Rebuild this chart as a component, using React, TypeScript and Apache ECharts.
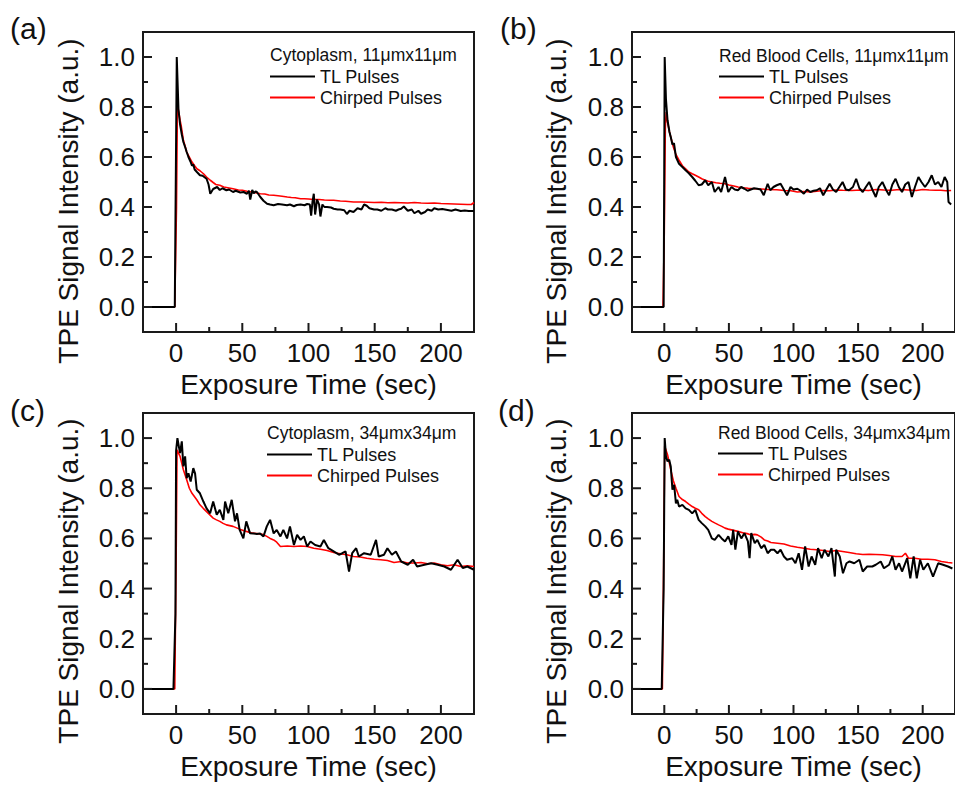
import React, { useEffect, useRef } from 'react';
import * as echarts from 'echarts';

// ---------- data: [time (sec), normalized TPE signal] ----------
const tlA: number[][] = [[-25,0],[-2,0],[-1,0],[0.5,1.0],[1.8,0.79],[3,0.73],[4.3,0.69],[5.5,0.66],[6.8,0.64],[8,0.62],[9.3,0.6],[11,0.58],[12,0.565],[13,0.57],[14,0.55],[15.7,0.54],[18,0.527],[20,0.525],[23,0.513],[24.5,0.49],[25.8,0.453],[28,0.472],[31,0.48],[33,0.468],[35,0.475],[38,0.467],[40,0.47],[43,0.46],[45,0.465],[48.5,0.458],[51,0.46],[53.5,0.453],[55,0.465],[56,0.43],[57.5,0.468],[58.6,0.455],[60,0.462],[61,0.46],[63.6,0.44],[66,0.425],[68.7,0.413],[71,0.41],[73.7,0.407],[77,0.412],[80,0.41],[83.8,0.407],[86,0.41],[89,0.403],[91,0.408],[94,0.41],[97,0.407],[99,0.412],[101,0.41],[102,0.365],[103,0.42],[104,0.453],[105,0.37],[106.5,0.43],[108,0.41],[109,0.362],[110.5,0.41],[112,0.4],[114,0.4],[117,0.398],[119,0.393],[122,0.39],[124,0.39],[127,0.387],[129,0.372],[131,0.385],[134,0.38],[137,0.395],[140,0.39],[142,0.41],[144,0.405],[146,0.395],[149.5,0.39],[152,0.39],[155,0.385],[158,0.395],[160,0.39],[163,0.39],[166,0.385],[168,0.39],[170,0.393],[172,0.402],[175,0.385],[178,0.39],[180,0.375],[183,0.385],[185,0.373],[188,0.38],[190,0.39],[193,0.385],[195,0.395],[198,0.39],[201,0.392],[205,0.388],[208,0.385],[211,0.39],[215,0.384],[218,0.386],[221,0.384],[225,0.384]];
const cpA: number[][] = [[-25,0],[-1,0],[0.3,0.4],[1,0.81],[2,0.78],[3,0.747],[4,0.72],[5.5,0.667],[7,0.64],[8,0.62],[10,0.6],[12,0.58],[14,0.565],[15.7,0.553],[18,0.545],[20.7,0.533],[23,0.52],[25.8,0.507],[28,0.498],[30,0.49],[33,0.487],[36,0.48],[40,0.476],[43,0.473],[47,0.468],[50,0.467],[53.5,0.463],[57,0.46],[60,0.457],[63.6,0.453],[67,0.452],[70,0.448],[73.7,0.447],[77,0.445],[80,0.443],[84,0.44],[87,0.438],[90,0.437],[94,0.433],[97,0.433],[100,0.432],[104,0.43],[108,0.43],[112,0.428],[116,0.427],[119,0.427],[124,0.424],[128,0.423],[134,0.42],[140,0.42],[145,0.419],[149.5,0.418],[155,0.419],[160,0.417],[165,0.418],[170,0.417],[175,0.416],[180,0.418],[185,0.416],[190,0.415],[195,0.416],[200,0.414],[205,0.413],[210,0.412],[215,0.411],[220,0.41],[223,0.41],[225,0.418]];

const tlB: number[][] = [[-25,0],[-2,0],[-0.5,0],[0.3,1.0],[1.3,0.83],[2.5,0.747],[4,0.7],[5,0.68],[6.3,0.65],[7.5,0.655],[9,0.6],[11.4,0.573],[14,0.56],[16.5,0.547],[19,0.535],[21.6,0.52],[24,0.505],[26.6,0.487],[29,0.49],[31.7,0.507],[34,0.487],[36.8,0.5],[39,0.46],[42,0.48],[44,0.46],[47,0.52],[49.5,0.46],[52,0.48],[54.5,0.47],[57,0.467],[59.5,0.48],[62,0.473],[64.5,0.465],[67,0.47],[69.5,0.475],[72,0.473],[74.5,0.47],[77,0.447],[80,0.493],[82,0.467],[84.5,0.48],[87,0.487],[90,0.493],[92.5,0.47],[95,0.447],[97.7,0.48],[100,0.47],[103,0.473],[105.5,0.465],[108,0.453],[110.5,0.47],[113,0.46],[115.5,0.465],[118,0.467],[120.5,0.475],[123,0.447],[125.5,0.47],[128,0.493],[130.5,0.47],[133,0.46],[135.5,0.48],[138,0.5],[140.5,0.47],[143,0.467],[146,0.48],[148.5,0.513],[151,0.475],[153.6,0.46],[156,0.48],[158.6,0.5],[161,0.47],[163.7,0.44],[166,0.48],[168.8,0.5],[171.5,0.47],[174,0.447],[176.5,0.49],[179,0.513],[181.5,0.48],[184,0.46],[186.5,0.49],[189,0.5],[191.6,0.44],[194,0.48],[196.7,0.52],[199,0.5],[201.8,0.48],[204.5,0.5],[207,0.527],[209.5,0.49],[212,0.5],[214.5,0.48],[217,0.52],[219,0.5],[220,0.42],[222,0.41]];
const cpB: number[][] = [[-25,0],[-1,0],[0,0.3],[0.8,0.72],[1.5,0.78],[2.5,0.74],[4,0.7],[5,0.68],[7,0.64],[9,0.61],[11.4,0.587],[14,0.565],[16.5,0.553],[19,0.54],[21.6,0.533],[24,0.527],[26.6,0.52],[29,0.513],[31.7,0.507],[34,0.503],[37,0.5],[40,0.497],[43,0.495],[47,0.493],[50,0.488],[53,0.485],[57,0.48],[61,0.477],[65,0.475],[70,0.473],[75,0.472],[80,0.47],[87,0.469],[93,0.466],[98,0.465],[103,0.46],[108,0.462],[113,0.46],[118,0.463],[123,0.466],[128,0.465],[133,0.468],[138,0.467],[145,0.466],[152,0.468],[158,0.466],[164,0.47],[170,0.468],[176,0.467],[182,0.47],[189,0.468],[195,0.466],[200,0.47],[205,0.468],[210,0.467],[214,0.467],[218,0.465],[222,0.466]];

const tlC: number[][] = [[-25,0],[-2,0],[-0.5,0.3],[0,0.95],[1,1.0],[2.3,0.96],[3,0.94],[4.3,0.987],[5.5,0.887],[6.8,0.927],[8,0.84],[9.3,0.86],[11,0.827],[13,0.88],[14.3,0.86],[15.6,0.794],[18,0.78],[20.6,0.747],[23,0.72],[25.7,0.7],[28,0.747],[30.7,0.694],[33,0.714],[35.7,0.674],[37,0.747],[39.4,0.7],[42,0.754],[44.5,0.668],[46,0.7],[48,0.634],[50.8,0.6],[53,0.668],[55.8,0.621],[58.3,0.62],[61,0.618],[63.4,0.62],[66,0.608],[68.5,0.648],[71,0.674],[73.7,0.62],[76,0.634],[78.8,0.608],[81,0.634],[83.8,0.6],[86,0.648],[89,0.574],[91.4,0.614],[94,0.594],[96.5,0.608],[99,0.568],[101.5,0.588],[105,0.574],[109,0.568],[111.6,0.594],[115,0.561],[119,0.548],[123,0.535],[125.5,0.541],[128,0.548],[130.6,0.468],[133,0.541],[136,0.561],[138,0.528],[142,0.541],[147,0.535],[151,0.594],[153,0.528],[157,0.535],[159.6,0.561],[163,0.535],[166,0.548],[170,0.508],[175,0.495],[179,0.515],[182,0.488],[187.6,0.495],[192.6,0.501],[197.6,0.495],[202.6,0.488],[207.6,0.475],[212.6,0.515],[216.5,0.482],[220,0.488],[225,0.475]];
const cpC: number[][] = [[-25,0],[-1,0],[0,0.5],[0.7,0.953],[3,0.927],[5.5,0.874],[8,0.834],[10,0.8],[12,0.78],[15.6,0.754],[18,0.734],[20.5,0.72],[23,0.707],[25.5,0.694],[28,0.681],[30.5,0.674],[33,0.668],[35.5,0.66],[38,0.654],[43,0.648],[48,0.637],[53,0.628],[58,0.621],[63,0.618],[66,0.615],[68.5,0.608],[71,0.6],[73.7,0.594],[76,0.585],[78.8,0.568],[84,0.57],[89,0.568],[94,0.57],[99,0.568],[104,0.561],[109,0.557],[114,0.552],[119,0.544],[124,0.539],[129,0.535],[134,0.528],[139,0.526],[144,0.521],[149.5,0.517],[154.5,0.515],[159.6,0.512],[164.6,0.504],[170,0.508],[175,0.502],[180,0.502],[185,0.504],[190,0.499],[195,0.502],[200,0.495],[205,0.491],[210,0.495],[215,0.488],[220,0.491],[225,0.488]];

const tlD: number[][] = [[-25,0],[-2,0],[-0.5,0.4],[0.3,1.0],[1.3,0.927],[2.5,0.907],[3.8,0.914],[5,0.887],[6.3,0.794],[7.6,0.814],[9,0.74],[10,0.754],[11.4,0.727],[14,0.734],[16.5,0.72],[19,0.714],[21.6,0.7],[24,0.714],[26.6,0.674],[29,0.661],[31.7,0.648],[34,0.634],[36.8,0.6],[39,0.594],[42,0.614],[44.4,0.6],[47,0.588],[49.5,0.608],[52,0.574],[53.3,0.634],[55,0.555],[57,0.628],[59.6,0.6],[62,0.621],[64.7,0.588],[66,0.521],[67.3,0.621],[70,0.581],[72,0.594],[75,0.561],[77.4,0.574],[80,0.541],[82.5,0.555],[85,0.555],[87.6,0.541],[90,0.555],[92.6,0.528],[95,0.515],[99,0.521],[101.5,0.501],[104,0.541],[106.6,0.475],[109,0.568],[111.7,0.488],[114,0.528],[116.8,0.495],[119,0.561],[121.8,0.521],[124,0.555],[127,0.528],[129.4,0.561],[132,0.448],[133,0.555],[135.8,0.528],[138.3,0.461],[141,0.501],[143.4,0.508],[147,0.501],[151,0.515],[153.6,0.468],[157,0.488],[161,0.488],[163.7,0.495],[167.5,0.508],[170,0.481],[174,0.495],[176.5,0.528],[179,0.475],[181.7,0.501],[184,0.468],[188,0.521],[190.4,0.441],[193,0.528],[195.4,0.441],[198,0.515],[200.5,0.475],[204,0.501],[208,0.448],[212,0.501],[215.7,0.495],[219.6,0.488],[223,0.48]];
const cpD: number[][] = [[-25,0],[-1.5,0],[-0.5,0.5],[0.3,0.967],[2.5,0.934],[5,0.874],[7,0.83],[9,0.8],[11.4,0.767],[14,0.755],[16.5,0.747],[19,0.737],[21.6,0.727],[24,0.72],[26.6,0.714],[29,0.7],[31.7,0.687],[34,0.678],[36.8,0.668],[39,0.662],[42,0.654],[44.5,0.648],[47,0.641],[49.5,0.637],[52,0.634],[57,0.628],[62,0.621],[65,0.618],[67.3,0.614],[70,0.616],[72,0.614],[75,0.605],[77.4,0.594],[80,0.59],[82.5,0.584],[87.6,0.581],[92.6,0.578],[97.7,0.57],[103,0.565],[108,0.561],[113,0.557],[118,0.555],[123,0.552],[128,0.548],[133,0.552],[138,0.548],[143,0.544],[148.5,0.539],[153.6,0.536],[158.6,0.537],[163.7,0.536],[169,0.535],[174,0.532],[179,0.528],[184,0.528],[186.6,0.541],[189,0.521],[194,0.521],[199,0.517],[204,0.517],[209.4,0.515],[214.5,0.508],[219.6,0.504],[223,0.502]];

const TL_DATA = [tlA, tlB, tlC, tlD];
const CP_DATA = [cpA, cpB, cpC, cpD];

const X_MAJOR = [0, 50, 100, 150, 200];
const X_MINOR = [-25, 25, 75, 125, 175, 225];
const Y_MAJOR = [0, 0.2, 0.4, 0.6, 0.8, 1.0];
const Y_MINOR = [-0.1, 0.1, 0.3, 0.5, 0.7, 0.9, 1.1];
const X_RANGE = [-25, 225];
const Y_RANGE = [-0.1, 1.1];

const PANEL_LABELS = ['(a)', '(b)', '(c)', '(d)'];
const PANEL_TITLES = ['Cytoplasm, 11\u03bcmx11\u03bcm', 'Red Blood Cells, 11\u03bcmx11\u03bcm', 'Cytoplasm, 34\u03bcmx34\u03bcm', 'Red Blood Cells, 34\u03bcmx34\u03bcm'];
const SERIES_NAMES = ['TL Pulses', 'Chirped Pulses'];
const X_TITLE = 'Exposure Time (sec)';
const Y_TITLE = 'TPE Signal Intensity (a.u.)';

// ---------- layout ----------
const LAYOUT = [
  { left: 143, top: 32, width: 331, height: 300, lx: 10, ly: 28, ytx: 68, yty: 201, legLeft: 270, legTop: 66, ttlY: 55 },
  { left: 632, top: 32, width: 330, height: 300, lx: 500, ly: 28, ytx: 556, yty: 201, legLeft: 719, legTop: 66, ttlY: 56 },
  { left: 143, top: 413, width: 331, height: 301, lx: 10, ly: 410, ytx: 68, yty: 581, legLeft: 267, legTop: 444, ttlY: 433 },
  { left: 632, top: 413, width: 330, height: 301, lx: 498, ly: 410, ytx: 556, yty: 581, legLeft: 718, legTop: 443, ttlY: 433 },
];

const FONT = '"Liberation Sans", Arial, Helvetica, sans-serif';
const INK = '#111';
const AX = '#1a1a1a';
const LEGEND_ICON = 'path://M0 0H45V2H0Z';
const MAJOR_LEN = 9;
const MINOR_LEN = 5;

export default function App() {
  const ref = useRef<HTMLDivElement>(null);
  useEffect(() => {
    if (!ref.current) return;
    const chart = echarts.init(ref.current, undefined, { renderer: 'svg' });

    const grid: any[] = [];
    const xAxis: any[] = [];
    const yAxis: any[] = [];
    const series: any[] = [];
    const legend: any[] = [];
    const graphic: any[] = [];

    LAYOUT.forEach((p, g) => {
      grid.push({ left: p.left, top: p.top, width: p.width, height: p.height, show: true, borderColor: AX, borderWidth: 2 });
      xAxis.push({
        type: 'value', gridIndex: g, position: 'bottom', min: X_RANGE[0], max: X_RANGE[1],
        axisLine: { show: false, onZero: false }, splitLine: { show: false }, axisTick: { show: false },
        axisLabel: { show: true, customValues: X_MAJOR, margin: 8, fontSize: 26, fontFamily: FONT, color: INK },
        name: X_TITLE, nameLocation: 'middle', nameGap: 38,
        nameTextStyle: { fontSize: 28, fontFamily: FONT, color: INK },
      });
      yAxis.push({
        type: 'value', gridIndex: g, position: 'left', min: Y_RANGE[0], max: Y_RANGE[1],
        axisLine: { show: false, onZero: false }, splitLine: { show: false }, axisTick: { show: false },
        axisLabel: { show: true, customValues: Y_MAJOR, margin: 8, fontSize: 26, fontFamily: FONT, color: INK, formatter: (v: number) => v.toFixed(1) },
      });

      series.push({
        name: SERIES_NAMES[1], type: 'line', xAxisIndex: g, yAxisIndex: g,
        data: CP_DATA[g], symbol: 'none', showSymbol: false, clip: true,
        lineStyle: { color: '#ff0000', width: 1.6 }, itemStyle: { color: '#ff0000' }, z: 2,
      });
      series.push({
        name: SERIES_NAMES[0], type: 'line', xAxisIndex: g, yAxisIndex: g,
        data: TL_DATA[g], symbol: 'none', showSymbol: false, clip: true,
        lineStyle: { color: '#000000', width: 2 }, itemStyle: { color: '#000000' }, z: 3,
      });

      legend.push({
        orient: 'vertical', left: p.legLeft, top: p.legTop, padding: 0,
        itemWidth: 45, itemHeight: 21, itemGap: 0, selectedMode: false,
        icon: LEGEND_ICON, symbolKeepAspect: true,
        data: SERIES_NAMES,
        textStyle: { fontSize: 18, fontFamily: FONT, color: INK, lineHeight: 21 },
      });

      graphic.push({
        type: 'text', x: p.lx, y: p.ly, z: 50,
        style: { text: PANEL_LABELS[g], font: `30px ${FONT}`, fill: INK, textAlign: 'left', textVerticalAlign: 'middle', align: 'left', verticalAlign: 'middle' },
      });
      graphic.push({
        type: 'text', x: p.ytx, y: p.yty, rotation: Math.PI / 2, z: 50,
        style: { text: Y_TITLE, font: `28px ${FONT}`, fill: INK, textAlign: 'center', textVerticalAlign: 'middle', align: 'center', verticalAlign: 'middle' },
      });
      graphic.push({
        type: 'text', x: p.legLeft, y: p.ttlY, z: 50,
        style: { text: PANEL_TITLES[g], font: `17.5px ${FONT}`, fill: INK, textAlign: 'left', textVerticalAlign: 'middle', align: 'left', verticalAlign: 'middle' },
      });
    });

    chart.setOption({
      animation: false,
      backgroundColor: '#ffffff',
      grid, xAxis, yAxis, series, legend, graphic,
    });

    // inward axis ticks, positioned through each grid's axis scales
    const ticks: any[] = [];
    LAYOUT.forEach((_p, g) => {
      const finder = { gridIndex: g };
      const xTick = (v: number, len: number) => {
        const pt = chart.convertToPixel(finder, [v, Y_RANGE[0]]) as number[];
        ticks.push({ type: 'line', z: 100, silent: true, shape: { x1: pt[0], y1: pt[1], x2: pt[0], y2: pt[1] - len }, style: { stroke: AX, lineWidth: 2 } });
      };
      const yTick = (v: number, len: number) => {
        const pt = chart.convertToPixel(finder, [X_RANGE[0], v]) as number[];
        ticks.push({ type: 'line', z: 100, silent: true, shape: { x1: pt[0], y1: pt[1], x2: pt[0] + len, y2: pt[1] }, style: { stroke: AX, lineWidth: 2 } });
      };
      X_MAJOR.forEach((v) => xTick(v, MAJOR_LEN));
      X_MINOR.forEach((v) => xTick(v, MINOR_LEN));
      Y_MAJOR.forEach((v) => yTick(v, MAJOR_LEN));
      Y_MINOR.forEach((v) => yTick(v, MINOR_LEN));
    });
    chart.setOption({ graphic: [...graphic, ...ticks] });

    return () => chart.dispose();
  }, []);

  return <div ref={ref} style={{ position: 'fixed', left: 0, top: 0, width: 955, height: 785, background: '#fff' }} />;
}
